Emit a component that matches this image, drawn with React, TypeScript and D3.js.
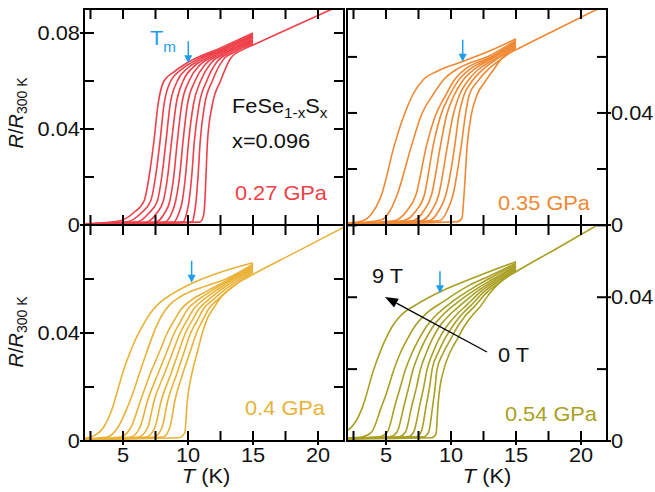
import React from "react";
import * as d3 from "d3";

type Pt = [number, number];

// Curves ordered from highest field (leftmost) to 0 T (rightmost, extends to 22 K)
const curves027: Pt[][] = [
  [[2,0.0005],[4.6,0.0015],[5.8,0.005],[6.62,0.01],[7.0,0.02],[7.38,0.035],[7.69,0.05],[8.15,0.06],[8.95,0.0639],[9.95,0.0676],[12.5,0.0738],[15,0.08]],
  [[2,0.0004],[5.3,0.0013],[6.4,0.005],[7.13,0.01],[7.5,0.02],[7.85,0.035],[8.15,0.05],[8.67,0.06],[9.47,0.0647],[10.47,0.0683],[12.7,0.0737],[15,0.0794]],
  [[2,0.0004],[6.1,0.0013],[7.0,0.005],[7.64,0.01],[7.98,0.02],[8.31,0.035],[8.62,0.05],[9.18,0.06],[9.98,0.0654],[10.98,0.069],[13,0.074],[15,0.0789]],
  [[2,0.0003],[6.8,0.0012],[7.6,0.005],[8.1,0.01],[8.43,0.02],[8.74,0.035],[9.08,0.05],[9.62,0.06],[10.42,0.0659],[11.42,0.0695],[13.2,0.0739],[15,0.0783]],
  [[2,0.0003],[7.5,0.0012],[8.2,0.005],[8.6,0.01],[8.9,0.02],[9.18,0.035],[9.51,0.05],[10.08,0.06],[10.88,0.0665],[11.88,0.0701],[13.4,0.0738],[15,0.0778]],
  [[2,0.0003],[8.2,0.0012],[8.75,0.005],[9.05,0.01],[9.35,0.02],[9.62,0.035],[9.95,0.05],[10.54,0.06],[11.34,0.067],[12.34,0.0707],[13.6,0.0738],[15,0.0772]],
  [[2,0.0003],[8.9,0.0012],[9.3,0.005],[9.56,0.01],[9.8,0.02],[10.05,0.035],[10.41,0.05],[10.97,0.06],[11.77,0.0675],[12.77,0.0712],[15,0.0767]],
  [[2,0.0003],[9.6,0.0012],[9.9,0.005],[10.08,0.01],[10.28,0.02],[10.49,0.035],[10.85,0.05],[11.44,0.06],[12.24,0.0681],[13.24,0.0718],[15,0.0761]],
  [[2,0.0003],[10.3,0.0012],[10.5,0.005],[10.62,0.01],[10.77,0.02],[10.94,0.035],[11.28,0.05],[11.87,0.06],[12.67,0.0686],[13.67,0.0723],[15,0.0756]],
  [[2,0.0003],[10.9,0.0012],[11.2,0.004],[11.3,0.01],[11.38,0.02],[11.5,0.035],[11.87,0.05],[12.5,0.06],[13.3,0.0696],[14.3,0.0733],[15,0.075],[18,0.0824],[22,0.0922]],
];

const curves035: Pt[][] = [
  [[2,0.0006],[3.0,0.0012],[3.8,0.0035],[4.65,0.0107],[5.65,0.0286],[6.3,0.038],[7.05,0.0464],[7.9,0.052],[8.9,0.0548],[10.85,0.0583],[13,0.0622],[15,0.0665]],
  [[2,0.0005],[4.6,0.0018],[5.3,0.005],[5.85,0.0107],[6.98,0.0286],[7.7,0.039],[8.6,0.0464],[9.5,0.0522],[10.6,0.056],[13,0.0605],[15,0.066]],
  [[2,0.0005],[5.6,0.0015],[6.6,0.005],[7.3,0.0107],[8.13,0.0286],[8.8,0.039],[9.6,0.0464],[10.3,0.052],[11.2,0.056],[13,0.0598],[15,0.0655]],
  [[2,0.0004],[6.3,0.0015],[7.3,0.005],[7.95,0.0107],[8.64,0.0286],[9.2,0.039],[9.9,0.0464],[10.6,0.0518],[11.5,0.0558],[13,0.0594],[15,0.065]],
  [[2,0.0004],[7.0,0.0015],[7.9,0.005],[8.5,0.0107],[9.2,0.0286],[9.65,0.039],[10.25,0.0464],[10.9,0.0515],[11.8,0.0556],[13,0.059],[15,0.0645]],
  [[2,0.0004],[7.7,0.0015],[8.5,0.005],[9.05,0.0107],[9.74,0.0286],[10.15,0.039],[10.65,0.0464],[11.3,0.0515],[12.1,0.0555],[13.2,0.0588],[15,0.064]],
  [[2,0.0004],[8.3,0.0015],[9.05,0.005],[9.6,0.0107],[10.3,0.0286],[10.6,0.039],[11.0,0.0464],[11.6,0.0512],[12.4,0.0553],[13.3,0.0585],[15,0.0635]],
  [[2,0.0004],[9.1,0.0015],[9.7,0.005],[10.15,0.0107],[10.8,0.0286],[11.1,0.039],[11.4,0.0464],[12.0,0.051],[12.8,0.0553],[13.6,0.0583],[15,0.063]],
  [[2,0.0003],[10.5,0.0012],[10.85,0.0025],[11.0,0.0107],[11.25,0.0286],[11.55,0.039],[12.0,0.0464],[12.6,0.051],[13.3,0.0556],[14.0,0.06],[15,0.0625],[18,0.0695],[22,0.0788]],
];

const curves04: Pt[][] = [
  [[2,0.001],[2.8,0.002],[3.5,0.005],[4.1,0.011],[4.6,0.019],[5.1,0.027],[5.6,0.0335],[6.1,0.039],[6.6,0.0435],[7.2,0.048],[7.9,0.0515],[8.8,0.0545],[10.4,0.0586],[12.5,0.0625],[15,0.066]],
  [[2,0.0008],[3.8,0.0015],[4.6,0.005],[5.3,0.012],[5.85,0.019],[6.4,0.027],[6.87,0.0335],[7.4,0.0405],[7.9,0.0458],[8.6,0.0505],[9.44,0.0535],[11.0,0.0568],[13,0.0602],[15,0.0655]],
  [[2,0.0007],[4.8,0.0015],[5.6,0.005],[6.36,0.0151],[7.1,0.025],[7.85,0.0335],[8.4,0.04],[8.92,0.0445],[9.5,0.049],[10.2,0.052],[11.5,0.0556],[13,0.0595],[15,0.065]],
  [[2,0.0006],[5.6,0.0015],[6.3,0.005],[6.9,0.0151],[7.7,0.025],[8.41,0.0335],[8.95,0.04],[9.45,0.0445],[10.0,0.049],[10.7,0.052],[11.8,0.0555],[13,0.0591],[15,0.0645]],
  [[2,0.0006],[6.2,0.0015],[6.9,0.005],[7.4,0.0151],[8.2,0.025],[8.87,0.0335],[9.4,0.04],[9.9,0.0445],[10.45,0.049],[11.1,0.052],[12.1,0.0555],[13.1,0.0588],[15,0.064]],
  [[2,0.0006],[6.8,0.0015],[7.45,0.005],[7.95,0.0151],[8.7,0.025],[9.31,0.0335],[9.8,0.04],[10.3,0.0445],[10.85,0.049],[11.5,0.052],[12.4,0.0555],[13.3,0.0586],[15,0.0635]],
  [[2,0.0006],[7.4,0.0015],[8.0,0.005],[8.45,0.0151],[9.15,0.025],[9.74,0.0335],[10.2,0.04],[10.7,0.0445],[11.2,0.049],[11.85,0.052],[12.7,0.0555],[13.5,0.0584],[15,0.063]],
  [[2,0.0005],[8.1,0.0015],[8.6,0.005],[9.0,0.0151],[9.6,0.025],[10.2,0.0335],[10.65,0.04],[11.1,0.0445],[11.6,0.049],[12.2,0.052],[13.0,0.0555],[13.7,0.0582],[15,0.0625]],
  [[2,0.0005],[9.3,0.0012],[9.75,0.003],[9.95,0.0151],[10.3,0.025],[10.75,0.0335],[11.1,0.04],[11.5,0.0455],[12.0,0.0495],[12.5,0.053],[13.3,0.0565],[14.0,0.059],[15,0.0617],[18,0.0692],[22,0.0792]],
];

const curves054: Pt[][] = [
  [[2,0.0028],[2.6,0.005],[3.2,0.0095],[4.05,0.0198],[4.95,0.0282],[5.5,0.032],[6.1,0.0348],[7.4,0.0381],[9.2,0.0416],[12,0.0458],[15,0.0499]],
  [[2,0.0008],[3.2,0.0012],[3.9,0.0025],[4.6,0.009],[5.1,0.014],[5.6,0.0198],[6.1,0.0245],[6.62,0.0282],[7.2,0.0318],[7.9,0.0348],[9.5,0.039],[11.5,0.0435],[13,0.046],[15,0.0495]],
  [[2,0.0008],[4.5,0.0012],[5.1,0.0025],[5.7,0.01],[6.1,0.015],[6.49,0.0198],[7.0,0.0245],[7.51,0.0282],[8.1,0.0318],[8.8,0.0348],[10.0,0.0385],[11.8,0.0428],[13,0.0453],[15,0.0492]],
  [[2,0.0008],[5.3,0.0012],[5.85,0.0025],[6.4,0.01],[6.75,0.015],[7.08,0.0198],[7.55,0.0245],[8.03,0.0282],[8.6,0.0318],[9.3,0.0348],[10.4,0.0383],[12.0,0.0424],[13.2,0.045],[15,0.0488]],
  [[2,0.0007],[6.0,0.0012],[6.5,0.0025],[7.0,0.01],[7.35,0.015],[7.64,0.0198],[8.1,0.0245],[8.54,0.0282],[9.1,0.0318],[9.8,0.0348],[10.8,0.038],[12.2,0.0421],[13.3,0.0447],[15,0.0485]],
  [[2,0.0007],[6.7,0.0012],[7.13,0.0025],[7.6,0.01],[7.9,0.015],[8.15,0.0198],[8.6,0.0245],[9.05,0.0282],[9.65,0.0318],[10.33,0.0348],[11.2,0.0378],[12.4,0.0419],[13.4,0.0444],[15,0.0481]],
  [[2,0.0007],[7.3,0.0012],[7.7,0.0025],[8.1,0.01],[8.35,0.015],[8.54,0.0198],[9.0,0.0245],[9.49,0.0282],[10.1,0.0318],[10.72,0.0348],[11.5,0.0376],[12.6,0.0417],[13.5,0.0441],[15,0.0478]],
  [[2,0.0007],[7.9,0.0012],[8.28,0.0025],[8.6,0.01],[8.78,0.015],[8.92,0.0198],[9.4,0.0245],[9.95,0.0282],[10.5,0.0318],[11.1,0.0348],[11.8,0.0374],[12.8,0.0415],[13.7,0.044],[15,0.0474]],
  [[2,0.0006],[8.5,0.0009],[8.85,0.002],[9.0,0.01],[9.15,0.015],[9.44,0.0198],[9.9,0.0245],[10.46,0.0282],[11.0,0.0318],[11.6,0.0348],[12.2,0.0372],[13.0,0.0412],[14.0,0.0449],[15,0.0471],[18,0.0533],[22,0.0616]],
];

const pressureLabels = ["0.27 GPa", "0.35 GPa", "0.4 GPa", "0.54 GPa"];
const panelColors = ["#EF3F49", "#F08833", "#E9B237", "#A99F22"];
const yMaxes = [0.09, 0.0771, 0.08, 0.0601];
const tmArrowT = [10.02, 10.9, 10.28, 9.15];
const tmArrowR = [0.0674, 0.0583, 0.0586, 0.0411];
const xTickValues = [2.5, 5, 7.5, 10, 12.5, 15, 17.5, 20];
const xTickLabels = [5, 10, 15, 20];
const yTickValues = [0, 0.02, 0.04, 0.06, 0.08];
const yTickLabels = [0, 0.04, 0.08];
const fieldLabels = ["9 T", "0 T"];
const compoundLabel = "x=0.096";

const allCurves = [curves027, curves035, curves04, curves054];

const FONT = "'Liberation Sans', Arial, Helvetica, sans-serif";
const SX = 1.09;
const BLUE = "#1E9DEB";

function Txt(props: { x: number; y: number; anchor?: string; size?: number; fill?: string; children: any }) {
  const { x, y, anchor = "start", size = 20, fill = "#111", children } = props;
  return (
    <text transform={`translate(${x},${y}) scale(${SX},1)`} textAnchor={anchor} fontSize={size} fill={fill} fontFamily={FONT}>
      {children}
    </text>
  );
}

const geo = [
  { x0: 84, x1: 344, y0: 9, y1: 225, side: "left", bottom: false, lx: 327, ly: 200 },
  { x0: 347, x1: 607, y0: 9, y1: 225, side: "right", bottom: false, lx: 590, ly: 210 },
  { x0: 84, x1: 344, y0: 225, y1: 441, side: "left", bottom: true, lx: 325, ly: 415 },
  { x0: 347, x1: 607, y0: 225, y1: 441, side: "right", bottom: true, lx: 597, ly: 421 },
];

function Panel({ idx }: { idx: number }) {
  const g = geo[idx];
  const color = panelColors[idx];
  const x = d3.scaleLinear().domain([2, 22]).range([g.x0, g.x1]);
  const y = d3.scaleLinear().domain([0, yMaxes[idx]]).range([g.y1, g.y0]);
  const line = d3
    .line<Pt>()
    .x((d) => x(d[0]))
    .y((d) => y(d[1]))
    .curve(d3.curveMonotoneX);
  const clipId = `clip${idx}`;
  const isLabeledX = (v: number) => xTickLabels.includes(v);
  const yt = yTickValues.filter((v) => v <= yMaxes[idx] + 1e-9);
  const isLabeledY = (v: number) => yTickLabels.some((l) => Math.abs(l - v) < 1e-9);
  const ax = x(tmArrowT[idx]);
  const ay = y(tmArrowR[idx]);
  const inLen = 10;
  const outLen = 4;
  return (
    <g>
      <defs>
        <clipPath id={clipId}>
          <rect x={g.x0} y={g.y0} width={g.x1 - g.x0} height={g.y1 - g.y0} />
        </clipPath>
      </defs>
      <g clipPath={`url(#${clipId})`} fill="none" stroke={color} strokeWidth={1.6} strokeLinejoin="round">
        {allCurves[idx].map((c, i) => (
          <path key={i} d={line(c) || ""} />
        ))}
      </g>
      {/* ticks */}
      <g stroke="#000" strokeWidth={2}>
        {xTickValues.map((v) => (
          <g key={"x" + v}>
            <line x1={x(v)} x2={x(v)} y1={g.y1 + (g.bottom && isLabeledX(v) ? outLen : 0)} y2={g.y1 - inLen} />
            <line x1={x(v)} x2={x(v)} y1={g.y0} y2={g.y0 + inLen} />
          </g>
        ))}
        {yt.map((v) => (
          <g key={"y" + v}>
            <line
              x1={g.x0 - (g.side === "left" && isLabeledY(v) ? outLen : 0)}
              x2={g.x0 + inLen}
              y1={y(v)}
              y2={y(v)}
            />
            <line
              x1={g.x1 + (g.side === "right" && isLabeledY(v) ? outLen : 0)}
              x2={g.x1 - inLen}
              y1={y(v)}
              y2={y(v)}
            />
          </g>
        ))}
      </g>
      <rect x={g.x0} y={g.y0} width={g.x1 - g.x0} height={g.y1 - g.y0} fill="none" stroke="#000" strokeWidth={2} />
      {/* y tick labels */}
      {yt
        .filter((v) => isLabeledY(v) && y(v) > g.y0 + 5)
        .map((v) => (
          <Txt key={"yl" + v} x={g.side === "left" ? g.x0 - 4 : g.x1 + 4} y={y(v) + 7} anchor={g.side === "left" ? "end" : "start"}>
            {v === 0 ? "0" : d3.format(".2f")(v)}
          </Txt>
        ))}
      {/* x tick labels */}
      {g.bottom &&
        xTickLabels.map((v) => (
          <Txt key={"xl" + v} x={x(v)} y={g.y1 + 21} anchor="middle">
            {String(v)}
          </Txt>
        ))}
      {/* pressure label */}
      <Txt x={g.lx} y={g.ly} anchor="end" fill={color} size={20}>
        {pressureLabels[idx]}
      </Txt>
      {/* Tm arrow */}
      <g>
        <line x1={ax} x2={ax} y1={ay - 22} y2={ay - 6} stroke={BLUE} strokeWidth={1.5} />
        <path d={`M${ax - 4},${ay - 8} L${ax + 4},${ay - 8} L${ax},${ay} Z`} fill={BLUE} />
      </g>
    </g>
  );
}

export default function App() {
  const arrowFrom: [number, number] = [487, 352];
  const arrowTo: [number, number] = [385, 297];
  const ang = Math.atan2(arrowTo[1] - arrowFrom[1], arrowTo[0] - arrowFrom[0]);
  const hl = 13;
  const hw = 5;
  const bx = arrowTo[0] - hl * Math.cos(ang);
  const by = arrowTo[1] - hl * Math.sin(ang);
  const px = -Math.sin(ang);
  const py = Math.cos(ang);
  return (
    <svg width={655} height={492} style={{ position: "absolute", left: 0, top: 0, background: "#fff" }} fontFamily={FONT}>
      {[0, 1, 2, 3].map((i) => (
        <Panel key={i} idx={i} />
      ))}
      {/* y-axis labels */}
      {[113, 332].map((cy, i) => (
        <text key={i} transform={`translate(23,${cy}) rotate(-90)`} textAnchor="middle" fontSize={20} fontFamily={FONT} fill="#111">
          <tspan fontStyle="italic">R</tspan>
          <tspan>/</tspan>
          <tspan fontStyle="italic">R</tspan>
          <tspan fontSize={14} dy={4}>300 K</tspan>
        </text>
      ))}
      {/* x-axis labels */}
      {[206, 487].map((cx, i) => (
        <Txt key={i} x={cx} y={483} anchor="middle">
          <tspan fontStyle="italic">T</tspan>
          <tspan> (K)</tspan>
        </Txt>
      ))}
      {/* Tm label */}
      <Txt x={150} y={45} fill={BLUE}>
        <tspan>T</tspan>
        <tspan fontSize={14} dy={7}>m</tspan>
      </Txt>
      {/* compound */}
      <Txt x={232} y={113}>
        <tspan>FeSe</tspan>
        <tspan fontSize={14} dy={5}>1-x</tspan>
        <tspan dy={-5}>S</tspan>
        <tspan fontSize={14} dy={5}>x</tspan>
      </Txt>
      <Txt x={232} y={148}>{compoundLabel}</Txt>
      {/* field arrow */}
      <line x1={arrowFrom[0]} y1={arrowFrom[1]} x2={bx} y2={by} stroke="#000" strokeWidth={1.3} />
      <path
        d={`M${arrowTo[0]},${arrowTo[1]} L${bx + px * hw},${by + py * hw} L${bx - px * hw},${by - py * hw} Z`}
        fill="#000"
      />
      <Txt x={372} y={283}>{fieldLabels[0]}</Txt>
      <Txt x={498} y={362}>{fieldLabels[1]}</Txt>
    </svg>
  );
}
